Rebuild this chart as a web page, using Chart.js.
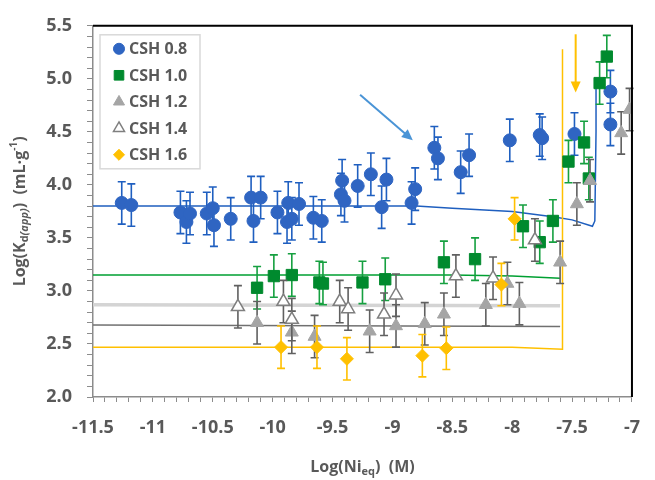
<!DOCTYPE html>
<html>
<head>
<meta charset="utf-8">
<script src="https://cdn.jsdelivr.net/npm/chart.js@4"></script>
<style>
  html, body { margin: 0; padding: 0; background: #fff; }
  #wrap { width: 655px; height: 480px; }
</style>
</head>
<body>
<div id="wrap"><canvas id="c" width="655" height="480"></canvas></div>
<script>
// 数据：CSH 0.8
const csh08X = [-11.26, -11.18, -10.77, -10.72, -10.69, -10.55, -10.50, -10.49, -10.35, -10.18, -10.16, -10.10, -9.96, -9.88, -9.87, -9.84, -9.78, -9.66, -9.59, -9.43, -9.42, -9.40, -9.29, -9.18, -9.09, -9.05, -8.84, -8.81, -8.65, -8.62, -8.43, -8.36, -8.02, -7.77, -7.75, -7.48, -7.18, -7.18];
const csh08Y = [3.83, 3.81, 3.74, 3.65, 3.73, 3.73, 3.78, 3.62, 3.68, 3.88, 3.66, 3.88, 3.74, 3.65, 3.83, 3.68, 3.82, 3.69, 3.66, 3.91, 4.04, 3.85, 3.99, 4.10, 3.79, 4.05, 3.83, 3.96, 4.35, 4.25, 4.12, 4.28, 4.42, 4.47, 4.44, 4.48, 4.88, 4.57];
const csh08Err = 0.2;

// CSH 1.0
const csh10X = [-10.13, -9.99, -9.84, -9.61, -9.58, -9.25, -9.06, -8.57, -8.31, -7.91, -7.77, -7.66, -7.53, -7.40, -7.36, -7.27, -7.21];
const csh10Y = [3.03, 3.14, 3.15, 3.08, 3.07, 3.08, 3.11, 3.27, 3.30, 3.61, 3.46, 3.66, 4.22, 4.40, 4.06, 4.96, 5.21];
const csh10Err = 0.2;

// CSH 1.2
const csh12X = [-10.13, -9.84, -9.65, -9.19, -8.97, -8.73, -8.57, -8.22, -8.04, -7.94, -7.60, -7.46, -7.35, -7.09, -7.02];
const csh12Y = [2.70, 2.61, 2.57, 2.62, 2.67, 2.69, 2.78, 2.87, 3.07, 2.88, 3.27, 3.82, 4.04, 4.49, 4.71];
const csh12Err = 0.2;

// CSH 1.4
const csh14X = [-10.29, -9.91, -9.84, -9.44, -9.37, -9.07, -8.97, -8.47, -8.16, -7.81];
const csh14Y = [2.85, 2.90, 2.73, 2.90, 2.83, 2.78, 2.96, 3.14, 3.12, 3.48];
const csh14Err = 0.2;

// CSH 1.6
const csh16X = [-9.93, -9.63, -9.38, -8.75, -8.55, -8.09, -7.98];
const csh16Y = [2.47, 2.47, 2.36, 2.39, 2.46, 3.06, 3.68];
const csh16Err = 0.2;

// 模型曲线
const fit08X = [-11.5, -9.0, -8.8, -8.5, -8.0, -7.66, -7.5, -7.33, -7.31, -7.30, -7.30];
const fit08Y = [3.80, 3.80, 3.80, 3.78, 3.75, 3.70, 3.67, 3.61, 3.66, 4.5, 4.95];
const fit10X = [-11.5, -8.5, -8.0, -7.6];
const fit10Y = [3.15, 3.15, 3.14, 3.12];
const fit12X = [-11.5, -7.6];
const fit12Y = [2.68, 2.665];
const fit14X = [-11.5, -7.6];
const fit14Y = [2.87, 2.86];
const fit16X = [-11.5, -8.0, -7.58, -7.58];
const fit16Y = [2.47, 2.47, 2.45, 5.28];

// 箭头
const blueArrow = [[-9.27, 4.85], [-8.83, 4.42]];
const yellowArrow = [[-7.47, 5.42], [-7.47, 4.87]];

const xMin = -11.5, xMax = -7;
const yMin = 2.0, yMax = 5.5;

const TXT = '#595959';
const FONT = '"Open Sans", "Liberation Sans", sans-serif';

function pts(xs, ys) {
    return xs.map((x, i) => ({ x: x, y: ys[i] }));
}

function fitSet(xs, ys, color, width) {
    return {
        label: '',
        data: pts(xs, ys),
        showLine: true,
        borderColor: color,
        borderWidth: width,
        pointRadius: 0,
        fill: false,
        isFit: true,
        order: 10
    };
}

function markerSet(label, xs, ys, err, opt) {
    return Object.assign({
        label: label,
        data: pts(xs, ys),
        err: err,
        showLine: false,
        borderWidth: 1,
        order: 0
    }, opt);
}

const datasets = [
    fitSet(fit14X, fit14Y, '#d4d4d4', 3.5),
    fitSet(fit12X, fit12Y, '#707070', 1.5),
    fitSet(fit10X, fit10Y, '#00a032', 1.5),
    fitSet(fit16X, fit16Y, '#ffc000', 1.5),
    fitSet(fit08X, fit08Y, '#1f5fbf', 1.5),
    markerSet('CSH 1.6', csh16X, csh16Y, csh16Err, { pointStyle: 'rectRot', pointRadius: 6.5, backgroundColor: '#ffc000', borderColor: '#ffc000', errColor: '#ffc000' }),
    markerSet('CSH 1.4', csh14X, csh14Y, csh14Err, { pointStyle: 'triangle', pointRadius: 7.5, backgroundColor: '#ffffff', borderColor: '#7f7f7f', borderWidth: 1.5, errColor: '#606060' }),
    markerSet('CSH 1.2', csh12X, csh12Y, csh12Err, { pointStyle: 'triangle', pointRadius: 7.5, backgroundColor: '#a5a5a5', borderColor: '#a5a5a5', errColor: '#606060' }),
    markerSet('CSH 1.0', csh10X, csh10Y, csh10Err, { pointStyle: 'rect', pointRadius: 8, backgroundColor: '#008a2e', borderColor: '#008a2e', errColor: '#16a040' }),
    markerSet('CSH 0.8', csh08X, csh08Y, csh08Err, { pointStyle: 'circle', pointRadius: 6.5, backgroundColor: '#2f65c2', borderColor: '#2f65c2', errColor: '#1f5fc0' })
];

// 误差棒：在每个点集之前画
const errorBars = {
    id: 'errorBars',
    beforeDatasetDraw(chart, args) {
        const ds = chart.data.datasets[args.index];
        if (ds.isFit) return;
        const ctx = chart.ctx;
        const xs = chart.scales.x, ys = chart.scales.y;
        ctx.save();
        ctx.strokeStyle = ds.errColor;
        ctx.lineWidth = 1.6;
        ds.data.forEach(p => {
            const px = xs.getPixelForValue(p.x);
            const top = ys.getPixelForValue(p.y + ds.err);
            const bot = ys.getPixelForValue(p.y - ds.err);
            ctx.beginPath();
            ctx.moveTo(px, top); ctx.lineTo(px, bot);
            ctx.moveTo(px - 4, top); ctx.lineTo(px + 4, top);
            ctx.moveTo(px - 4, bot); ctx.lineTo(px + 4, bot);
            ctx.stroke();
        });
        ctx.restore();
    }
};

// 画带上下标的文字
function drawRich(ctx, parts, x, y, align) {
    let total = 0;
    parts.forEach(p => { ctx.font = p.font; p.w = ctx.measureText(p.t).width; total += p.w; });
    let cx = align === 'center' ? x - total / 2 : x;
    parts.forEach(p => {
        ctx.font = p.font;
        ctx.fillText(p.t, cx, y + (p.dy || 0));
        cx += p.w;
    });
}

function drawArrow(ctx, x1, y1, x2, y2, color) {
    const ang = Math.atan2(y2 - y1, x2 - x1);
    const hl = 11, hw = 5;
    ctx.save();
    ctx.strokeStyle = color;
    ctx.fillStyle = color;
    ctx.lineWidth = 2;
    ctx.beginPath();
    ctx.moveTo(x1, y1);
    ctx.lineTo(x2 - Math.cos(ang) * hl * 0.8, y2 - Math.sin(ang) * hl * 0.8);
    ctx.stroke();
    ctx.beginPath();
    ctx.moveTo(x2, y2);
    ctx.lineTo(x2 - Math.cos(ang) * hl + Math.sin(ang) * hw, y2 - Math.sin(ang) * hl - Math.cos(ang) * hw);
    ctx.lineTo(x2 - Math.cos(ang) * hl - Math.sin(ang) * hw, y2 - Math.sin(ang) * hl + Math.cos(ang) * hw);
    ctx.closePath();
    ctx.fill();
    ctx.restore();
}

const decor = {
    id: 'decor',
    afterDraw(chart) {
        const ctx = chart.ctx;
        const a = chart.chartArea;
        const xs = chart.scales.x, ys = chart.scales.y;

        // 上边和右边黑框
        ctx.save();
        ctx.strokeStyle = '#000';
        ctx.lineWidth = 2;
        ctx.beginPath();
        ctx.moveTo(a.left, a.top);
        ctx.lineTo(a.right, a.top);
        ctx.lineTo(a.right, a.bottom);
        ctx.stroke();
        ctx.restore();

        // 箭头
        drawArrow(ctx, xs.getPixelForValue(blueArrow[0][0]), ys.getPixelForValue(blueArrow[0][1]),
            xs.getPixelForValue(blueArrow[1][0]), ys.getPixelForValue(blueArrow[1][1]), '#4a94d6');
        drawArrow(ctx, xs.getPixelForValue(yellowArrow[0][0]), ys.getPixelForValue(yellowArrow[0][1]),
            xs.getPixelForValue(yellowArrow[1][0]), ys.getPixelForValue(yellowArrow[1][1]), '#ffc000');

        // 图例
        const lx = a.left + 7, ly = a.top + 9, lw = 100, lh = 134;
        ctx.save();
        ctx.fillStyle = '#fff';
        ctx.fillRect(lx, ly, lw, lh);
        ctx.strokeStyle = '#d9d9d9';
        ctx.lineWidth = 1.5;
        ctx.strokeRect(lx, ly, lw, lh);
        const items = chart.data.datasets.filter(d => !d.isFit).reverse();
        items.forEach((d, i) => {
            const cy = ly + 14 + i * 26.5;
            ctx.fillStyle = d.backgroundColor;
            ctx.strokeStyle = d.borderColor;
            ctx.lineWidth = d.borderWidth;
            Chart.helpers.drawPoint(ctx, { pointStyle: d.pointStyle, radius: d.pointRadius * 0.85, borderWidth: d.borderWidth }, lx + 19, cy);
            ctx.fillStyle = TXT;
            ctx.font = 'bold 16px ' + FONT;
            ctx.textBaseline = 'middle';
            ctx.textAlign = 'left';
            ctx.fillText(d.label, lx + 29, cy + 1);
        });
        ctx.restore();

        // 坐标轴标题
        ctx.save();
        ctx.fillStyle = TXT;
        ctx.textBaseline = 'middle';
        ctx.textAlign = 'left';
        drawRich(ctx, [
            { t: 'Log(Ni', font: 'bold 16px ' + FONT },
            { t: 'eq', font: 'bold 11px ' + FONT, dy: 5 },
            { t: ')  (M)', font: 'bold 16px ' + FONT }
        ], (a.left + a.right) / 2, 467, 'center');
        ctx.translate(20, (a.top + a.bottom) / 2);
        ctx.rotate(-Math.PI / 2);
        drawRich(ctx, [
            { t: 'Log(K', font: 'bold 16px ' + FONT },
            { t: 'd', font: 'bold 11px ' + FONT, dy: 5 },
            { t: '(app)', font: 'italic bold 11px ' + FONT, dy: 5 },
            { t: ')  (mL·g', font: 'bold 16px ' + FONT },
            { t: '-1', font: 'bold 10px ' + FONT, dy: -6 },
            { t: ')', font: 'bold 16px ' + FONT }
        ], 0, 0, 'center');
        ctx.restore();
    }
};

function isMajor(v) {
    return Math.abs(v * 2 - Math.round(v * 2)) < 1e-6;
}

new Chart(document.getElementById('c'), {
    type: 'scatter',
    data: { datasets: datasets },
    plugins: [errorBars, decor],
    options: {
        responsive: false,
        animation: false,
        layout: { padding: { top: 19, right: 10, left: 0, bottom: 0 } },
        plugins: {
            legend: { display: false },
            tooltip: { enabled: false }
        },
        scales: {
            x: {
                type: 'linear',
                min: xMin,
                max: xMax,
                afterFit(scale) { scale.height = 83; },
                grid: { drawOnChartArea: false, drawTicks: true, tickLength: 5, color: '#8c8c8c', lineWidth: 1 },
                border: { display: true, color: '#8c8c8c', width: 1.5 },
                ticks: {
                    stepSize: 0.1,
                    autoSkip: false,
                    maxRotation: 0,
                    padding: 15,
                    color: TXT,
                    font: { family: FONT, size: 18, weight: 'bold' },
                    callback: v => isMajor(v) ? String(Math.round(v * 10) / 10) : ''
                }
            },
            y: {
                type: 'linear',
                min: yMin,
                max: yMax,
                afterFit(scale) { scale.width = 93; },
                grid: { drawOnChartArea: false, drawTicks: true, tickLength: 6, color: '#8c8c8c', lineWidth: 1 },
                border: { display: true, color: '#8c8c8c', width: 1.5 },
                ticks: {
                    stepSize: 0.1,
                    autoSkip: false,
                    padding: 15,
                    color: TXT,
                    font: { family: FONT, size: 18, weight: 'bold' },
                    callback: v => isMajor(v) ? (Math.round(v * 10) / 10).toFixed(1) : ''
                }
            }
        }
    }
});
</script>
</body>
</html>
